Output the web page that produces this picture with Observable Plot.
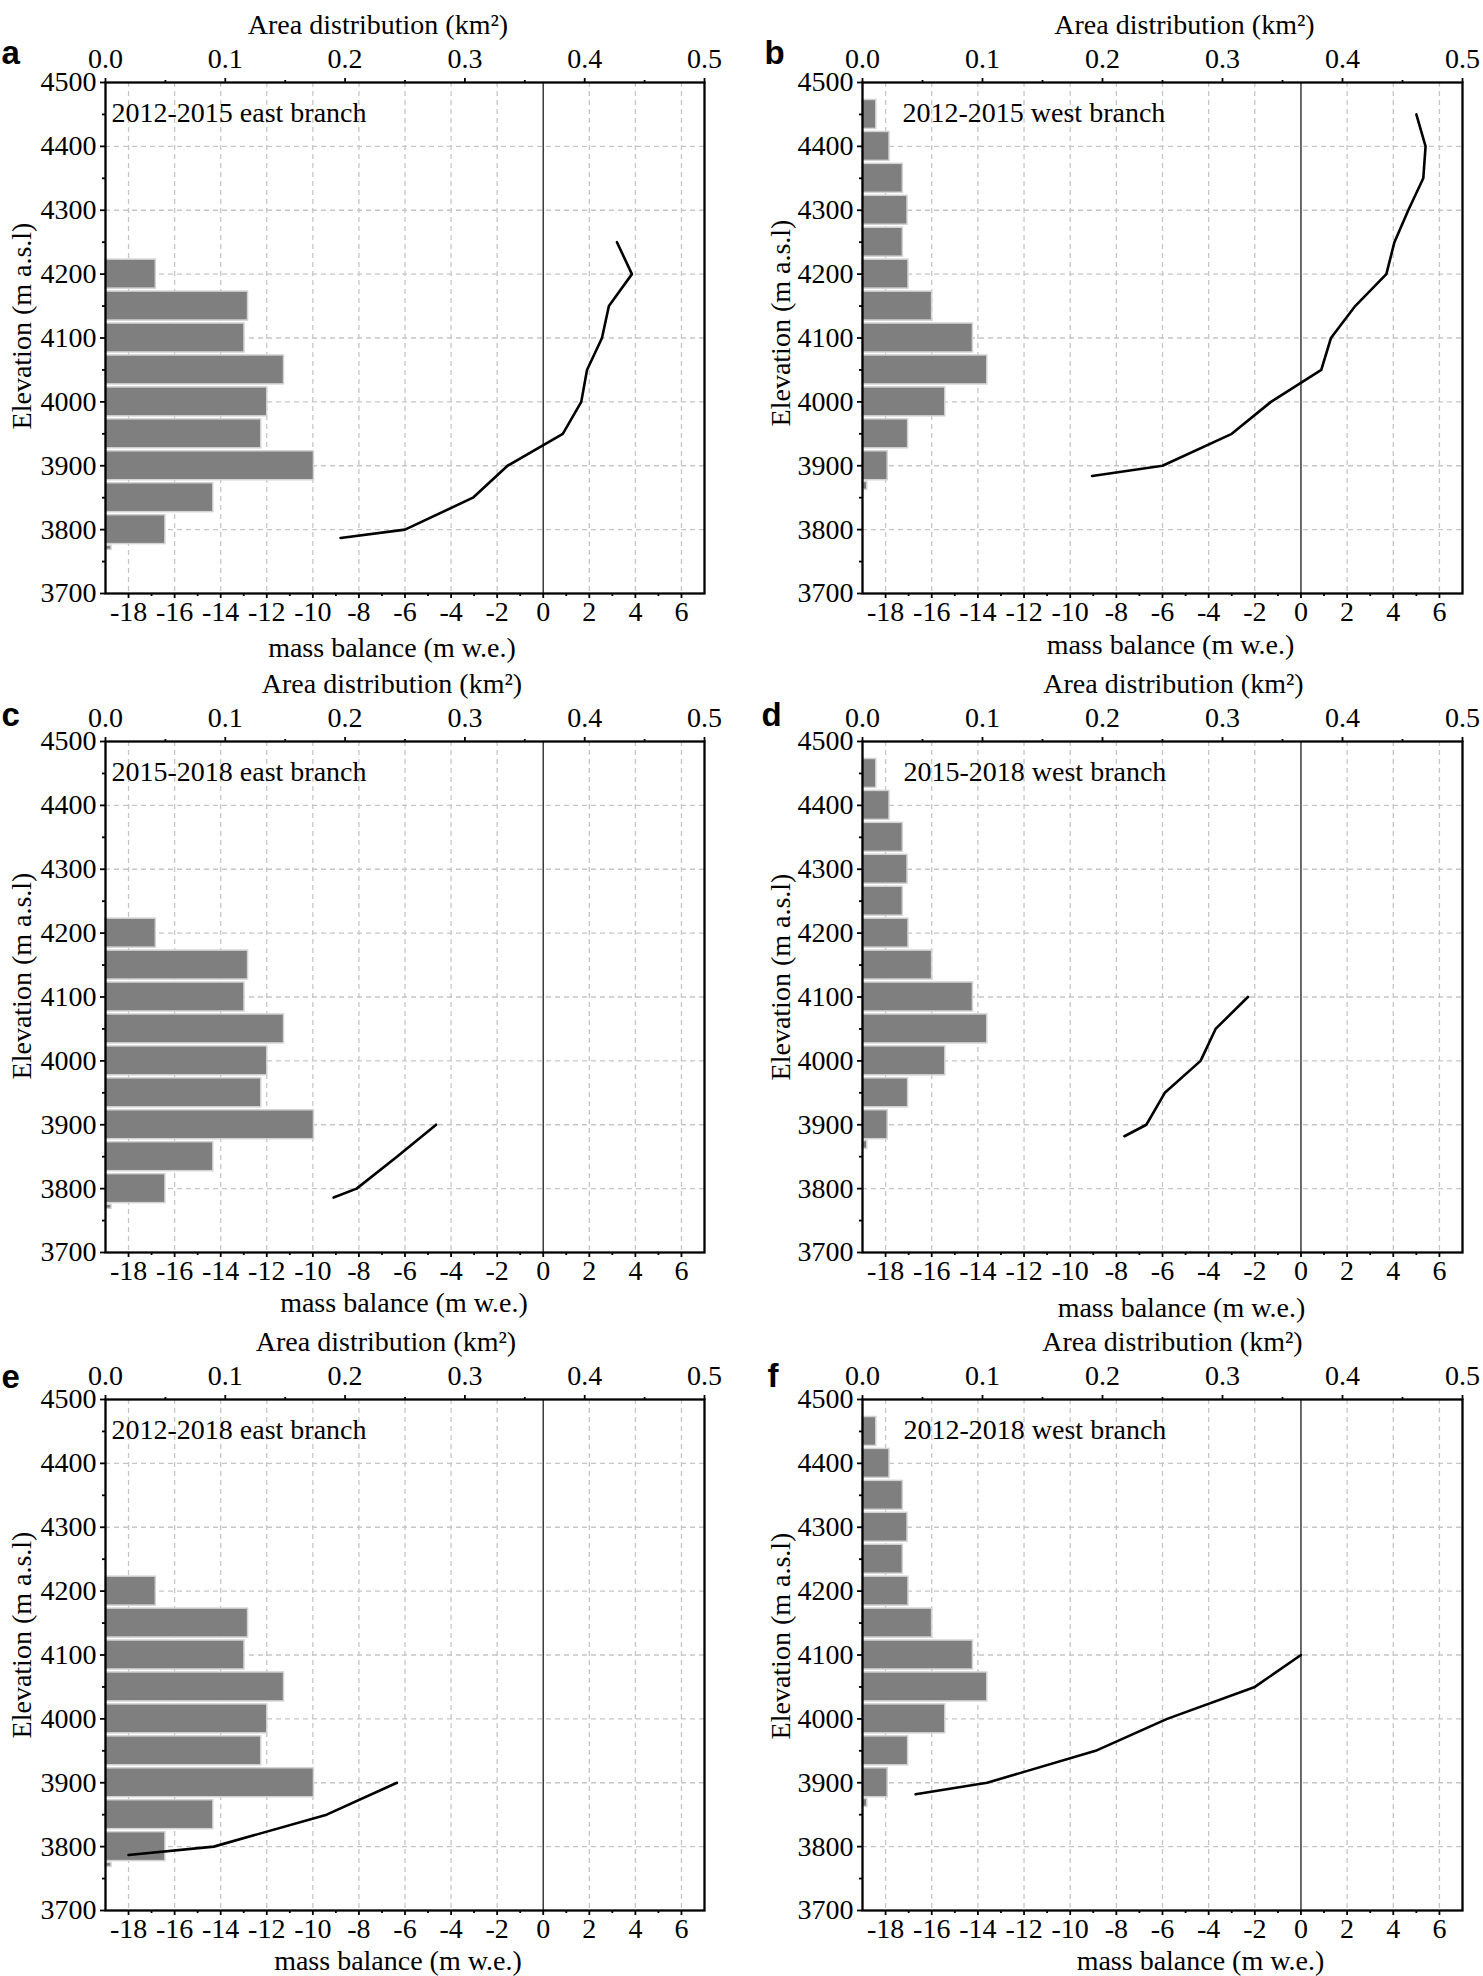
<!DOCTYPE html>
<html>
<head>
<meta charset="utf-8">
<script src="https://cdn.jsdelivr.net/npm/d3@7"></script>
<script src="https://cdn.jsdelivr.net/npm/@observablehq/plot@0.6"></script>
<style>
  body { margin: 0; background: #fff; }
  #fig { position: relative; width: 1483px; height: 1976px; background: #fff; overflow: hidden; }
  #fig svg { position: absolute; overflow: visible; max-width: none; }
</style>
</head>
<body>
<div id="fig"></div>
<script>
// ---------------- DATA ----------------
// Area distribution per elevation bin (km²), east branch
const eastBinBottom = [4175, 4125, 4075, 4025, 3975, 3925, 3875, 3825, 3775, 3766];
const eastBinTop    = [4225, 4175, 4125, 4075, 4025, 3975, 3925, 3875, 3825, 3777];
const eastArea      = [0.042, 0.119, 0.116, 0.149, 0.135, 0.130, 0.174, 0.090, 0.050, 0.005];

// Area distribution per elevation bin (km²), west branch
const westBinBottom = [4425, 4375, 4325, 4275, 4225, 4175, 4125, 4075, 4025, 3975, 3925, 3875, 3860];
const westBinTop    = [4475, 4425, 4375, 4325, 4275, 4225, 4175, 4125, 4075, 4025, 3975, 3925, 3877];
const westArea      = [0.0115, 0.0225, 0.0336, 0.0375, 0.0336, 0.0383, 0.058, 0.092, 0.104, 0.069, 0.038, 0.021, 0.004];

// Mass balance profiles (m w.e.) vs elevation (m a.s.l.)
const elevA = [4250, 4200, 4150, 4100, 4050, 4000, 3950, 3900, 3850, 3800, 3787];
const mbA   = [3.2, 3.85, 2.85, 2.55, 1.9, 1.65, 0.85, -1.55, -3.05, -6.0, -8.8];
const elevB = [4450, 4400, 4350, 4300, 4250, 4200, 4150, 4100, 4050, 4000, 3950, 3900, 3884];
const mbB   = [5.0, 5.4, 5.3, 4.65, 4.05, 3.7, 2.35, 1.3, 0.88, -1.3, -3.0, -6.0, -9.05];
const elevC = [3900, 3850, 3800, 3786];
const mbC   = [-4.65, -6.35, -8.1, -9.1];
const elevD = [4100, 4050, 4000, 3950, 3900, 3882];
const mbD   = [-2.3, -3.7, -4.35, -5.9, -6.7, -7.65];
const elevE = [3900, 3850, 3800, 3787];
const mbE   = [-6.35, -9.4, -14.3, -18.0];
const elevF = [4100, 4050, 4000, 3950, 3900, 3882];
const mbF   = [0, -2.0, -5.8, -8.9, -13.6, -16.7];

// Axis ticks
const mbTicks    = [-18, -16, -14, -12, -10, -8, -6, -4, -2, 0, 2, 4, 6];
const mbMinor    = [-17, -15, -13, -11, -9, -7, -5, -3, -1, 1, 3, 5];
const areaTicks  = [0.0, 0.1, 0.2, 0.3, 0.4, 0.5];
const areaMinor  = [0.05, 0.15, 0.25, 0.35, 0.45];
const elevTicks  = [3700, 3800, 3900, 4000, 4100, 4200, 4300, 4400, 4500];
const elevMinor  = [3750, 3850, 3950, 4050, 4150, 4250, 4350, 4450];

const panelLetters = ["a", "b", "c", "d", "e", "f"];
const panelTitles = [
  "2012-2015 east branch", "2012-2015 west branch",
  "2015-2018 east branch", "2015-2018 west branch",
  "2012-2018 east branch", "2012-2018 west branch"
];

// ---------------- BUILD ----------------
const MB_DOMAIN = [-19, 7];
const AREA_MAX = 0.5;
const areaToX = a => MB_DOMAIN[0] + a * (MB_DOMAIN[1] - MB_DOMAIN[0]) / AREA_MAX;
const xToArea = x => (x - MB_DOMAIN[0]) * AREA_MAX / (MB_DOMAIN[1] - MB_DOMAIN[0]);

const zip = (lo, hi, area) => area.map((a, i) => ({lo: lo[i], hi: hi[i], area: a}));
const eastBins = zip(eastBinBottom, eastBinTop, eastArea);
const westBins = zip(westBinBottom, westBinTop, westArea);
const profiles = [[elevA, mbA], [elevB, mbB], [elevC, mbC], [elevD, mbD], [elevE, mbE], [elevF, mbF]]
  .map(([e, m]) => e.map((v, i) => ({elev: v, mb: m[i]})));

const cols = [
  {left: 0,   width: 740, ml: 105, mr: 36},
  {left: 740, width: 743, ml: 122, mr: 21}
];
const rowTops = [0, 659, 1317];
const ROW_H = 659;

// per-panel text offsets
const layout = [
  {letterDx: -104, letterDy: -19, areaDx: -27, mbDx: -13, mbDy: 63, elevDy: -12, noteDx: 6},
  {letterDx: -98,  letterDy: -19, areaDx: 22,  mbDx: 8,   mbDy: 60, elevDy: -15, noteDx: 40},
  {letterDx: -104, letterDy: -16, areaDx: -13, mbDx: -1,  mbDy: 59, elevDy: -21, noteDx: 6},
  {letterDx: -101, letterDy: -16, areaDx: 11,  mbDx: 19,  mbDy: 64, elevDy: -20, noteDx: 41},
  {letterDx: -104, letterDy: -12, areaDx: -19, mbDx: -7,  mbDy: 59, elevDy: -20, noteDx: 6},
  {letterDx: -95,  letterDy: -13, areaDx: 10,  mbDx: 38,  mbDy: 59, elevDy: -19, noteDx: 41}
];

const serif = "'Liberation Serif','Times New Roman',Times,serif";
const sans = "'Liberation Sans',Arial,Helvetica,sans-serif";
const fig = document.getElementById("fig");

for (let k = 0; k < 6; k++) {
  const col = cols[k % 2];
  const rowTop = rowTops[Math.floor(k / 2)];
  const L = layout[k];
  const bins = (k % 2 === 0) ? eastBins : westBins;
  const gridStyle = {stroke: "#c6c6c6", strokeOpacity: 1, strokeWidth: 1.3, strokeDasharray: "5,4"};
  const svg = Plot.plot({
    width: col.width,
    height: ROW_H,
    marginLeft: col.ml,
    marginRight: col.mr,
    marginTop: 82,
    marginBottom: 66,
    style: {fontFamily: serif, fontSize: "28px", color: "#000", background: "transparent", overflow: "visible"},
    x: {domain: MB_DOMAIN},
    y: {domain: [3700, 4500]},
    marks: [
      Plot.gridX(mbTicks.filter(d => d !== 0), gridStyle),
      Plot.gridY(elevTicks.filter(d => d > 3700 && d < 4500), gridStyle),
      Plot.rect(bins, {
        x1: () => areaToX(0), x2: d => areaToX(d.area), y1: "lo", y2: "hi",
        insetTop: 1.5, insetBottom: 1.5,
        fill: "#7f7f7f", stroke: "#d2d2d2", strokeWidth: 1.5
      }),
      Plot.ruleX([0], {stroke: "#3a3a3a", strokeWidth: 1.5}),
      Plot.line(profiles[k], {x: "mb", y: "elev", stroke: "#000", strokeWidth: 2.6}),
      Plot.frame({stroke: "#000", strokeWidth: 2.3}),
      Plot.axisX(mbTicks, {anchor: "bottom", tickSize: 5, tickPadding: 3, strokeWidth: 1.8, label: null, fontSize: 28, tickFormat: d => String(d)}),
      Plot.axisX(mbMinor, {anchor: "bottom", tickSize: 3, strokeWidth: 1.8, label: null, tickFormat: () => ""}),
      Plot.axisX(areaTicks.map(areaToX), {anchor: "top", tickSize: 5, tickPadding: 10, strokeWidth: 1.8, label: null, fontSize: 28, tickFormat: x => xToArea(x).toFixed(1)}),
      Plot.axisX(areaMinor.map(areaToX), {anchor: "top", tickSize: 3, strokeWidth: 1.8, label: null, tickFormat: () => ""}),
      Plot.axisY(elevTicks, {anchor: "left", tickSize: 5, tickPadding: 4, strokeWidth: 1.8, label: null, fontSize: 28, tickFormat: d => String(d)}),
      Plot.axisY(elevMinor, {anchor: "left", tickSize: 3, strokeWidth: 1.8, label: null, tickFormat: () => ""}),
      Plot.text([panelLetters[k]], {
        text: d => d, frameAnchor: "top-left", dx: L.letterDx, dy: L.letterDy,
        textAnchor: "start", lineAnchor: "bottom",
        fontFamily: sans, fontWeight: "bold", fontSize: 33, fill: "#000"
      }),
      Plot.text(["Area distribution (km²)"], {
        text: d => d, frameAnchor: "top", dx: L.areaDx, dy: -49,
        textAnchor: "middle", lineAnchor: "bottom", fontSize: 28, fill: "#000"
      }),
      Plot.text(["mass balance (m w.e.)"], {
        text: d => d, frameAnchor: "bottom", dx: L.mbDx, dy: L.mbDy,
        textAnchor: "middle", lineAnchor: "bottom", fontSize: 28, fill: "#000"
      }),
      Plot.text(["Elevation (m a.s.l)"], {
        text: d => d, frameAnchor: "left", dx: (k % 2 === 0 ? -83 : -81), dy: L.elevDy,
        rotate: -90, textAnchor: "middle", lineAnchor: "middle", fontSize: 28, fill: "#000"
      }),
      Plot.text([panelTitles[k]], {
        text: d => d, frameAnchor: "top-left", dx: L.noteDx, dy: 39,
        textAnchor: "start", lineAnchor: "bottom", fontSize: 28, fill: "#000"
      })
    ]
  });
  svg.style.left = col.left + "px";
  svg.style.top = rowTop + "px";
  fig.appendChild(svg);
}
</script>
</body>
</html>
